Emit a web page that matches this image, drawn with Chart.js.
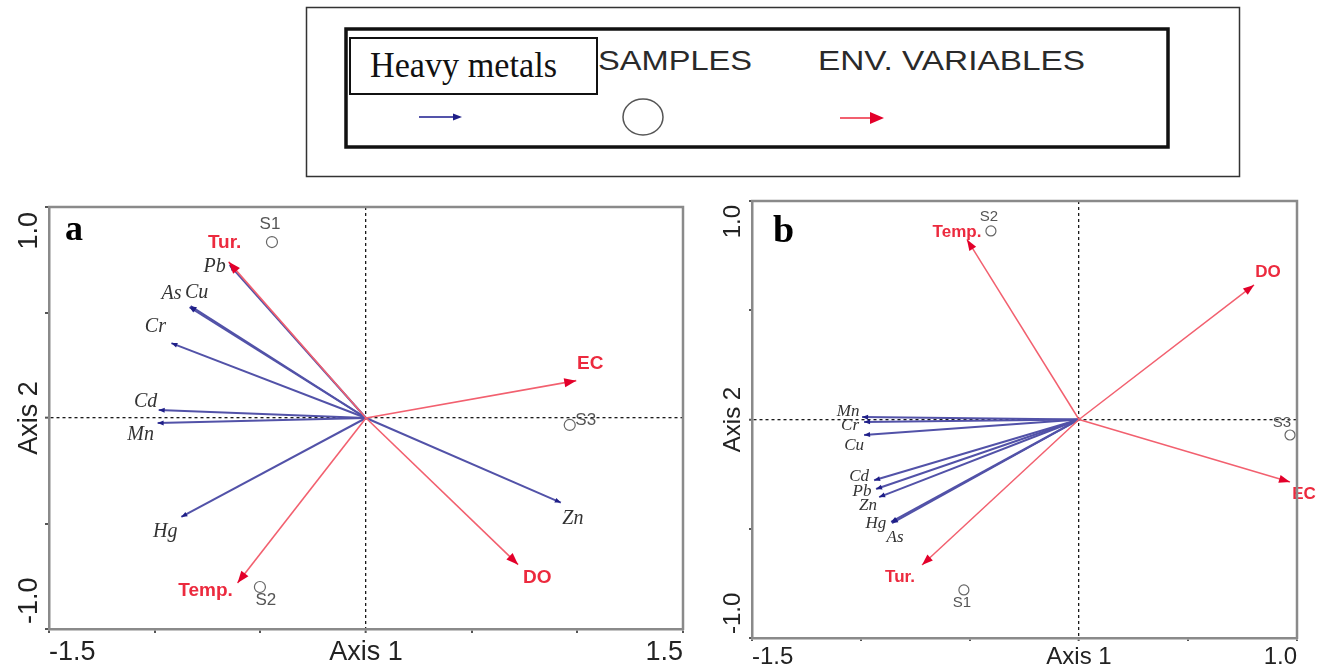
<!DOCTYPE html>
<html>
<head>
<meta charset="utf-8">
<script src="https://cdn.jsdelivr.net/npm/chart.js@4/dist/chart.umd.min.js"></script>
<style>
html,body{margin:0;padding:0;background:#fff;width:1324px;height:671px;overflow:hidden;position:relative}
canvas{position:absolute}
#legend{position:absolute;left:0;top:0}
</style>
</head>
<body>
<svg id="legend" width="1324" height="185">
  <rect x="306.5" y="7.5" width="933" height="169" fill="none" stroke="#333" stroke-width="1.5"/>
  <rect x="346" y="29" width="822" height="118" fill="none" stroke="#111" stroke-width="3.5"/>
  <rect x="350" y="38" width="247" height="56" fill="#fff" stroke="#111" stroke-width="2"/>
  <text x="370" y="77" font-family="'Liberation Serif', 'Times New Roman', serif" font-size="35" fill="#111" textLength="187" lengthAdjust="spacingAndGlyphs">Heavy metals</text>
  <text x="598" y="70" font-family="'Liberation Sans', Arial, sans-serif" font-size="28" fill="#2a2a2a" textLength="154" lengthAdjust="spacingAndGlyphs">SAMPLES</text>
  <text x="818" y="70" font-family="'Liberation Sans', Arial, sans-serif" font-size="28" fill="#2a2a2a" textLength="267" lengthAdjust="spacingAndGlyphs">ENV. VARIABLES</text>
  <line x1="419" y1="117" x2="455" y2="117" stroke="#5454aa" stroke-width="2"/>
  <polygon points="462,117 453,113.5 453,120.5" fill="#1f1f88"/>
  <ellipse cx="643" cy="117" rx="20" ry="18" fill="none" stroke="#555" stroke-width="1.5"/>
  <line x1="840" y1="118" x2="872" y2="118" stroke="#f2606f" stroke-width="2"/>
  <polygon points="884,118 870,112 870,124" fill="#e3002a"/>
</svg>
<canvas id="ca" width="700" height="481" style="left:0;top:190px"></canvas>
<canvas id="cb" width="624" height="481" style="left:700px;top:190px"></canvas>
<script>
// ---------------- DATA ----------------
// Panel a
const metalsA   = ['Pb', 'As', 'Cu', 'Cr', 'Cd', 'Mn', 'Hg', 'Zn'];
const metalsAx  = [-0.645, -0.835, -0.83, -0.921, -0.981, -0.986, -0.874, 0.922];
const metalsAy  = [0.725, 0.525, 0.53, 0.355, 0.038, -0.024, -0.469, -0.401];
const envA      = ['Tur.', 'EC', 'DO', 'Temp.'];
const envAx     = [-0.65, 0.995, 0.72, -0.608];
const envAy     = [0.74, 0.177, -0.695, -0.782];
const samplesA  = ['S1', 'S2', 'S3'];
const samplesAx = [-0.445, -0.502, 0.964];
const samplesAy = [0.834, -0.801, -0.033];

// Panel b
const metalsB   = ['Mn', 'Cr', 'Cu', 'Cd', 'Pb', 'Zn', 'Hg', 'As'];
const metalsBx  = [-0.995, -0.986, -0.986, -0.94, -0.931, -0.917, -0.858, -0.862];
const metalsBy  = [0.011, -0.011, -0.071, -0.278, -0.318, -0.355, -0.474, -0.469];
const envB      = ['Temp.', 'DO', 'EC', 'Tur.'];
const envBx     = [-0.514, 0.803, 0.968, -0.72];
const envBy     = [0.824, 0.616, -0.286, -0.666];
const samplesB  = ['S2', 'S3', 'S1'];
const samplesBx = [-0.404, 0.968, -0.528];
const samplesBy = [0.863, -0.071, -0.78];

// Axes / ticks
const xTicksA      = [-1.5, -1, -0.5, 0, 0.5, 1, 1.5];
const xTickLabelsA = ['-1.5', '', '', 'Axis 1', '', '', '1.5'];
const xTicksB      = [-1.5, -1, -0.5, 0, 0.5, 1];
const xTickLabelsB = ['-1.5', '', '', 'Axis 1', '', '1.0'];
const yTicks       = [-1, -0.5, 0, 0.5, 1];
const yTickLabels  = ['-1.0', '', 'Axis 2', '', '1.0'];
const panelLetters = ['a', 'b'];

// ---------------- STYLE ----------------
const RED_LINE = '#f2606f', RED_HEAD = '#e3002a', RED_TEXT = '#ec2a3e';
const BLUE_LINE = '#5252a8', BLUE_HEAD = '#1f1f88';
const FRAME = '#8a8a8a';
const SANS = '"Liberation Sans", Arial, sans-serif';
const SERIF = '"Liberation Serif", "Times New Roman", serif';

const styleA = {
  pad: {left: 0, top: 17, right: 17, bottom: 0}, yAxisW: 49, xAxisH: 42,
  tickSize: 27, tickLen: 4, xPad: 3, yGap: 12, yInset: 5,
  metalFont: 'italic 20px ' + SERIF, envFont: 'bold 19px ' + SANS, sampleFont: '17px ' + SANS,
  sampleR: 5.5, envW: 1.6, metalW: 2, envHead: [12, 9], metalHead: [6, 5],
  letterFont: 'bold 36px ' + SERIF, letterDx: 16, letterDy: 33,
  nudge: {
    Pb: [-15, 2], As: [-18, -13], Cu: [6, -13], Cr: [-16, -16], Cd: [-13, -8], Mn: [-17, 12], Hg: [-16, 15], Zn: [12, 16],
    'Tur.': [-4, -19], EC: [14, -17], DO: [19, 13], 'Temp.': [-32, 8],
    S1: [-2, -18], S2: [6, 13], S3: [16, -5]
  }
};
const styleB = {
  pad: {left: 0, top: 11, right: 27, bottom: 0}, yAxisW: 52, xAxisH: 33,
  tickSize: 24, tickLen: 3, xPad: 2, yGap: 12, yInset: 4,
  metalFont: 'italic 17px ' + SERIF, envFont: 'bold 17px ' + SANS, sampleFont: '15px ' + SANS,
  sampleR: 5, envW: 1.5, metalW: 2, envHead: [11, 8], metalHead: [6, 5],
  letterFont: 'bold 38px ' + SERIF, letterDx: 21, letterDy: 41,
  nudge: {
    Mn: [-14, -6], Cr: [-14, 4], Cu: [-10, 11], Cd: [-15, -4], Pb: [-14, 3], Zn: [-11, 8], Hg: [-16, 0], As: [4, 16],
    'Temp.': [-10, -7], DO: [14, -13], EC: [14, 12], 'Tur.': [-22, 12],
    S2: [-2, -14], S3: [-8, -12], S1: [-2, 13]
  }
};

// ---------------- BUILD ----------------
function buildDatasets(P) {
  const st = P.style, ds = [];
  P.env.forEach((n, i) => ds.push({
    kind: 'env', name: n, order: 0, showLine: true, fill: false,
    data: [{x: 0, y: 0}, {x: P.ex[i], y: P.ey[i]}],
    borderColor: RED_LINE, borderWidth: st.envW, pointRadius: 0, pointHoverRadius: 0, clip: false
  }));
  P.metals.forEach((n, i) => ds.push({
    kind: 'metal', name: n, order: 1, showLine: true, fill: false,
    data: [{x: 0, y: 0}, {x: P.mx[i], y: P.my[i]}],
    borderColor: BLUE_LINE, borderWidth: st.metalW, pointRadius: 0, pointHoverRadius: 0, clip: false
  }));
  ds.push({
    kind: 'sample', names: P.samples, order: 2, showLine: false,
    data: P.samples.map((n, i) => ({x: P.sx[i], y: P.sy[i]})),
    pointStyle: 'circle', pointRadius: st.sampleR, pointHoverRadius: st.sampleR,
    borderColor: '#666', borderWidth: 1.2, backgroundColor: 'rgba(0,0,0,0)', clip: false
  });
  return ds;
}

function biplotPlugin(P) {
  const st = P.style;
  return {
    id: 'biplot',
    afterDatasetsDraw(chart) {
      const ctx = chart.ctx;
      const heads = (kind, dims, color) => {
        chart.data.datasets.forEach((ds, i) => {
          if (ds.kind !== kind) return;
          const m = chart.getDatasetMeta(i).data;
          const a = Math.atan2(m[1].y - m[0].y, m[1].x - m[0].x);
          ctx.save();
          ctx.translate(m[1].x, m[1].y);
          ctx.rotate(a);
          ctx.beginPath();
          ctx.moveTo(0, 0);
          ctx.lineTo(-dims[0], -dims[1] / 2);
          ctx.lineTo(-dims[0], dims[1] / 2);
          ctx.closePath();
          ctx.fillStyle = color;
          ctx.fill();
          ctx.restore();
        });
      };
      heads('metal', st.metalHead, BLUE_HEAD);
      heads('env', st.envHead, RED_HEAD);

      ctx.save();
      ctx.textAlign = 'center';
      ctx.textBaseline = 'middle';
      chart.data.datasets.forEach((ds, i) => {
        const m = chart.getDatasetMeta(i).data;
        if (ds.kind === 'metal' || ds.kind === 'env') {
          const d = st.nudge[ds.name] || [0, 0];
          ctx.font = ds.kind === 'metal' ? st.metalFont : st.envFont;
          ctx.fillStyle = ds.kind === 'metal' ? '#333' : RED_TEXT;
          ctx.fillText(ds.name, m[1].x + d[0], m[1].y + d[1]);
        } else if (ds.kind === 'sample') {
          ctx.font = st.sampleFont;
          ctx.fillStyle = '#555';
          ds.names.forEach((n, j) => {
            const d = st.nudge[n] || [0, 0];
            ctx.fillText(n, m[j].x + d[0], m[j].y + d[1]);
          });
        }
      });
      ctx.restore();
    },
    afterDraw(chart) {
      const ctx = chart.ctx, ca = chart.chartArea, ys = chart.scales.y;
      // frame: top and right sides
      ctx.save();
      ctx.strokeStyle = FRAME;
      ctx.lineWidth = 2.5;
      ctx.beginPath();
      ctx.moveTo(ca.left - 1, ca.top);
      ctx.lineTo(ca.right, ca.top);
      ctx.lineTo(ca.right, ca.bottom + 1);
      ctx.stroke();
      ctx.restore();
      // rotated y tick labels
      ctx.save();
      ctx.font = st.tickSize + 'px ' + SANS;
      ctx.fillStyle = '#222';
      ctx.textBaseline = 'alphabetic';
      const n = ys.ticks.length;
      ys.ticks.forEach((t, i) => {
        if (!t.label) return;
        const py = ys.getPixelForValue(t.value);
        let align = 'center', y = py;
        if (i === 0) { align = 'left'; y = py - st.yInset; }
        else if (i === n - 1) { align = 'right'; y = py + st.yInset; }
        ctx.save();
        ctx.translate(ca.left - st.yGap, y);
        ctx.rotate(-Math.PI / 2);
        ctx.textAlign = align;
        ctx.fillText(t.label, 0, 0);
        ctx.restore();
      });
      ctx.restore();
      // panel letter
      ctx.save();
      ctx.font = st.letterFont;
      ctx.fillStyle = '#000';
      ctx.textAlign = 'left';
      ctx.textBaseline = 'alphabetic';
      ctx.fillText(P.letter, ca.left + st.letterDx, ca.top + st.letterDy);
      ctx.restore();
    }
  };
}

function axisGrid(st) {
  return {
    grid: {
      drawOnChartArea: true,
      color: '#1a1a1a',
      lineWidth: c => (c.tick && c.tick.value === 0) ? 1.3 : 0,
      drawTicks: true, tickLength: st.tickLen, tickColor: '#555', tickWidth: 2
    },
    border: {
      display: true, color: FRAME, width: 2.5,
      dash: c => (c.tick && c.tick.value === 0) ? [3, 3] : []
    }
  };
}

function makeChart(id, P) {
  const st = P.style;
  const gx = axisGrid(st), gy = axisGrid(st);
  return new Chart(document.getElementById(id), {
    type: 'scatter',
    data: {datasets: buildDatasets(P)},
    options: {
      responsive: false, devicePixelRatio: 1, animation: false, events: [],
      layout: {padding: st.pad},
      plugins: {legend: {display: false}, tooltip: {enabled: false}},
      scales: {
        x: {
          type: 'linear', min: P.xMin, max: P.xMax,
          afterBuildTicks: s => { s.ticks = P.xTicks.map(v => ({value: v})); },
          afterFit: s => { s.height = st.xAxisH; },
          ticks: {
            autoSkip: false, maxRotation: 0, minRotation: 0, align: 'inner',
            padding: st.xPad, color: '#222', font: {family: SANS, size: st.tickSize},
            callback: (v, i) => P.xLabels[i]
          },
          grid: gx.grid, border: gx.border
        },
        y: {
          type: 'linear', min: -1, max: 1,
          afterBuildTicks: s => { s.ticks = yTicks.map(v => ({value: v})); },
          afterFit: s => { s.width = st.yAxisW; },
          ticks: {display: false, callback: (v, i) => yTickLabels[i]},
          grid: gy.grid, border: gy.border
        }
      }
    },
    plugins: [biplotPlugin(P)]
  });
}

makeChart('ca', {
  metals: metalsA, mx: metalsAx, my: metalsAy,
  env: envA, ex: envAx, ey: envAy,
  samples: samplesA, sx: samplesAx, sy: samplesAy,
  xMin: -1.5, xMax: 1.5, xTicks: xTicksA, xLabels: xTickLabelsA,
  letter: panelLetters[0], style: styleA
});
makeChart('cb', {
  metals: metalsB, mx: metalsBx, my: metalsBy,
  env: envB, ex: envBx, ey: envBy,
  samples: samplesB, sx: samplesBx, sy: samplesBy,
  xMin: -1.5, xMax: 1.0, xTicks: xTicksB, xLabels: xTickLabelsB,
  letter: panelLetters[1], style: styleB
});
</script>
</body>
</html>
